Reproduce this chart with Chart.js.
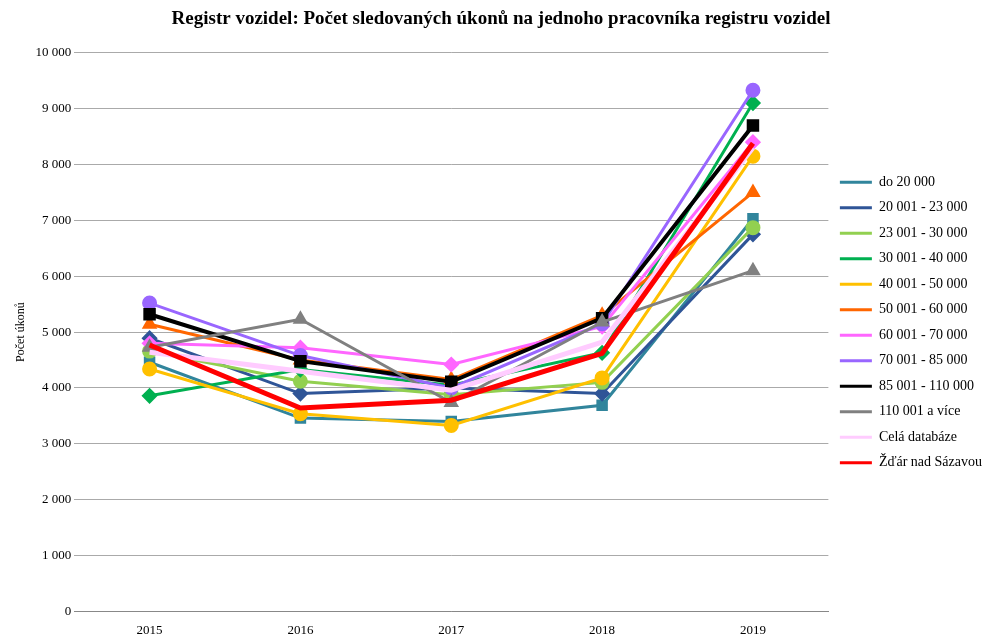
<!DOCTYPE html>
<html><head><meta charset="utf-8">
<script src="https://cdn.jsdelivr.net/npm/chart.js@4/dist/chart.umd.min.js"></script>
<style>body{margin:0;background:#fff}#w{width:1000px;height:641px}</style>
</head><body><div id="w"><canvas id="c"></canvas></div>
<script>
const years = ['2015', '2016', '2017', '2018', '2019'];
const names = ['do 20 000', '20 001 - 23 000', '23 001 - 30 000', '30 001 - 40 000', '40 001 - 50 000', '50 001 - 60 000', '60 001 - 70 000', '70 001 - 85 000', '85 001 - 110 000', '110 001 a více', 'Celá databáze', 'Žďár nad Sázavou'];
const doDvaceti = [4460, 3460, 3400, 3690, 7030];
const do23 = [4890, 3900, 4000, 3900, 6750];
const do30 = [4660, 4120, 3880, 4100, 6870];
const do40 = [3860, 4330, 4050, 4630, 9100];
const do50 = [4340, 3540, 3330, 4180, 8150];
const do60 = [5140, 4500, 4150, 5300, 7500];
const do70 = [4800, 4720, 4420, 5100, 8400];
const do85 = [5520, 4580, 4000, 5150, 9330];
const do110 = [5320, 4480, 4110, 5250, 8700];
const nad110 = [4730, 5230, 3740, 5180, 6100];
const cela = [4640, 4300, 3960, 4820, 8300];
const zdar = [4770, 3640, 3780, 4620, 8380];

const series = [doDvaceti, do23, do30, do40, do50, do60, do70, do85, do110, nad110, cela, zdar];
const colors = ['#31859C', '#2F5597', '#92D050', '#00B050', '#FFC000', '#FF6600', '#FF66FF', '#9966FF', '#000000', '#808080', '#FFCCFF', '#FF0000'];
const markers = ['rect', 'rectRot', 'circle', 'rectRot', 'circle', 'triangle', 'rectRot', 'circle', 'rect', 'triangle', false, false];
const widths = [3, 3, 3, 3, 3, 3, 3, 3, 4, 3, 5, 5];

const datasets = series.map((d, i) => ({
  label: names[i], data: d, borderColor: colors[i], backgroundColor: colors[i],
  borderWidth: widths[i], pointStyle: markers[i] || 'line',
  pointRadius: markers[i] ? 6 : 0,
  tension: 0, order: 12 - i
}));

Chart.defaults.font.family = "'Liberation Serif', 'Times New Roman', serif";
Chart.defaults.color = '#000';
new Chart(document.getElementById('c'), {
  type: 'line',
  data: { labels: years, datasets },
  options: {
    responsive: true, maintainAspectRatio: false, animation: false,
    layout: { padding: { left: 10, right: 8, top: 4, bottom: 0 } },
    plugins: {
      title: { display: true, text: 'Registr vozidel: Počet sledovaných úkonů na jednoho pracovníka registru vozidel', font: { size: 19, weight: 'bold' }, padding: { top: 4, bottom: 22 } },
      legend: { position: 'right', labels: { boxWidth: 32, boxHeight: 3, padding: 11.5, font: { size: 14 },
        generateLabels: ch => ch.data.datasets.map((ds, i) => ({ text: ds.label, fillStyle: ds.borderColor, strokeStyle: ds.borderColor, lineWidth: 0, datasetIndex: i })) } },
      tooltip: { enabled: false }
    },
    scales: {
      x: { offset: true, grid: { display: false }, border: { color: '#888' }, ticks: { font: { size: 13 } } },
      y: { min: 0, max: 10000, ticks: { stepSize: 1000, font: { size: 13 }, callback: v => v.toLocaleString('cs-CZ').replace(/\s/g, ' ') },
        grid: { color: '#aaa', drawTicks: false }, border: { display: false },
        title: { display: true, text: 'Počet úkonů', font: { size: 12 } } }
    }
  }
});
</script></body></html>
